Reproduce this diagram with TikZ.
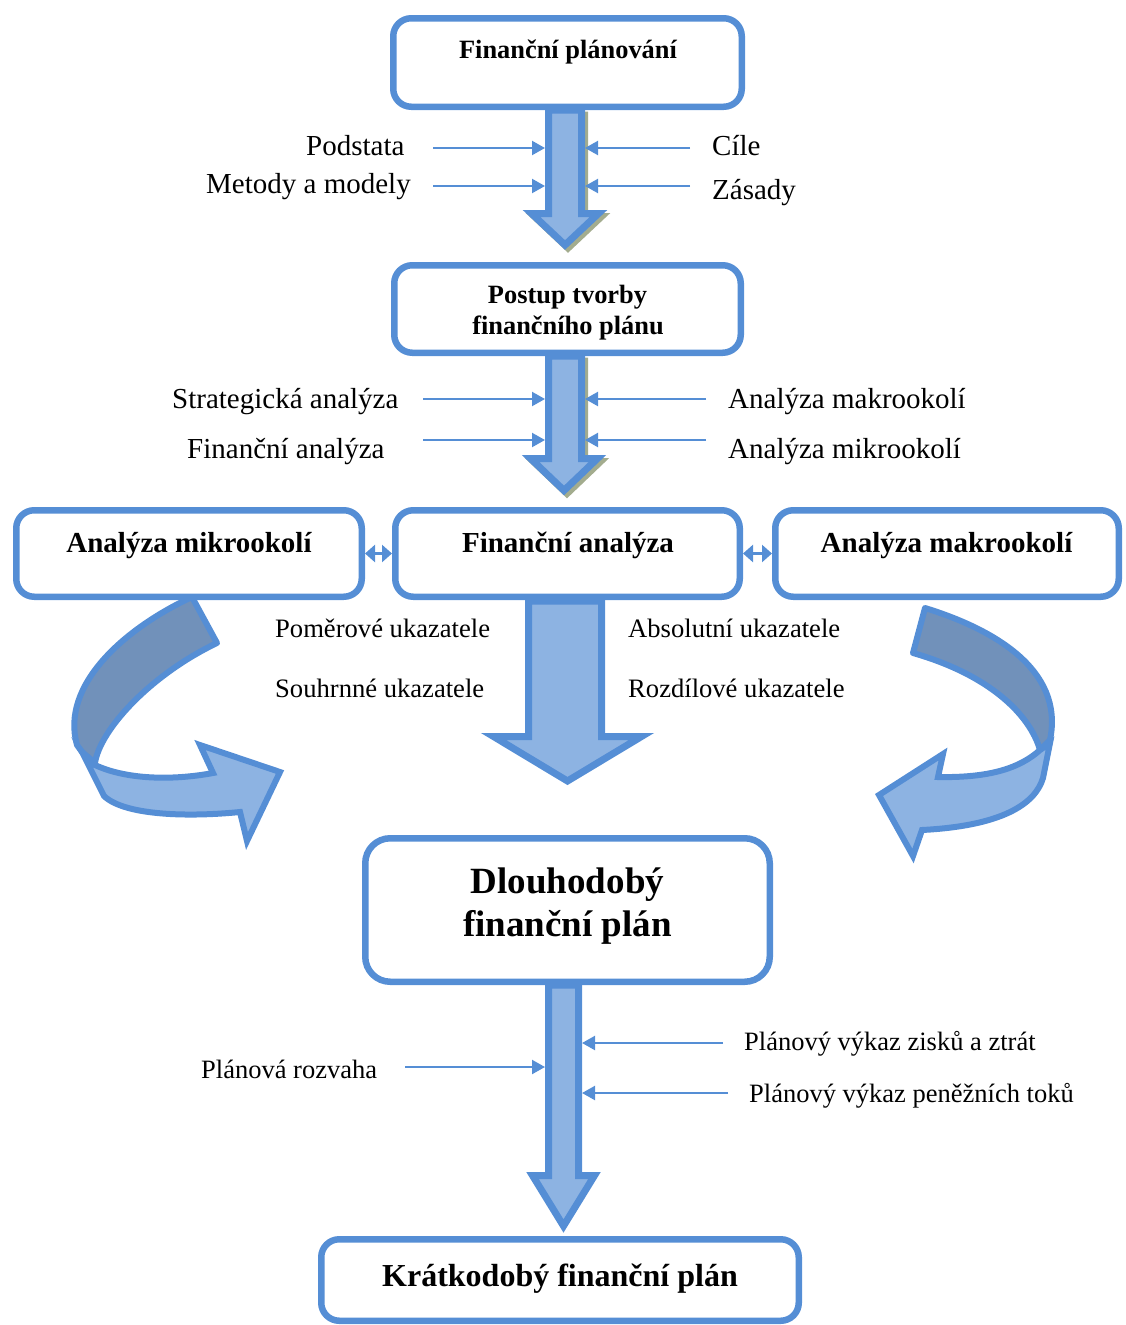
\documentclass[tikz,border=0pt]{standalone}
\usepackage{fontspec}
\setmainfont{Liberation Serif}
\usetikzlibrary{arrows.meta}
\definecolor{edge}{RGB}{85,142,213}
\definecolor{lightfill}{RGB}{141,179,226}
\definecolor{darkfill}{RGB}{113,145,186}
\definecolor{shade}{RGB}{163,172,142}
\tikzset{
  box/.style={draw=edge, line width=6.5pt, rounded corners=18pt, fill=white, inner sep=0pt},
  title/.style={inner sep=0pt, font=\bfseries\fontsize{#1}{#1}\selectfont},
  lab/.style={inner sep=0pt, font=\fontsize{#1}{#1}\selectfont},
  feed/.style={draw=edge, line width=2.2pt, -{Triangle[length=13pt,width=14pt]}},
  twoway/.style={draw=edge, line width=3pt, {Triangle[length=10pt,width=17pt]}-{Triangle[length=10pt,width=17pt]}},
  blockarrow/.style={draw=edge, fill=lightfill, line width=7pt, miter limit=12},
  blockshade/.style={draw=shade, fill=shade, line width=7pt, miter limit=12},
  ribbonback/.style={draw=edge, fill=darkfill, line width=6pt, line join=round},
  ribbonfront/.style={draw=edge, fill=lightfill, line width=6pt, line join=miter},
}
\begin{document}
\begin{tikzpicture}[x=1pt,y=-1pt]
\useasboundingbox (0,0) rectangle (1125,1325);

% ---- block arrows (shadow first) ----
\path[blockshade, shift={(3,3)}] (548.5,112) -- (548.5,213.5) -- (531.5,213.5) -- (565,245) -- (598.5,213.5) -- (581.5,213.5) -- (581.5,112) -- cycle;
\path[blockarrow] (548.5,110) -- (548.5,213.5) -- (531.5,213.5) -- (565,245) -- (598.5,213.5) -- (581.5,213.5) -- (581.5,110) -- cycle;

\path[blockshade, shift={(3,3)}] (548.5,358) -- (548.5,458.5) -- (530.5,458.5) -- (564,490.5) -- (597.5,458.5) -- (581.5,458.5) -- (581.5,358) -- cycle;
\path[blockarrow] (548.5,356) -- (548.5,458.5) -- (530.5,458.5) -- (564,490.5) -- (597.5,458.5) -- (581.5,458.5) -- (581.5,356) -- cycle;

\path[blockarrow] (528.5,601) -- (528.5,736.5) -- (493.5,736.5) -- (567.5,781) -- (641.5,736.5) -- (601.5,736.5) -- (601.5,601) -- cycle;

\path[blockarrow] (548.5,985) -- (548.5,1175.5) -- (532.5,1175.5) -- (563.5,1226) -- (594.5,1175.5) -- (578.5,1175.5) -- (578.5,985) -- cycle;

% ---- curled arrows beside the middle row ----
\path[ribbonback] (192,597) .. controls (125,628) and (60,685) .. (77,745) -- (82,752) -- (95,763)
  .. controls (100,730) and (150,675) .. (217,643) -- cycle;
\path[ribbonfront] (82,752) -- (95,765) .. controls (125,779) and (170,781) .. (213,773)
  -- (200,745) -- (280,772) -- (247,841) -- (240,812)
  .. controls (190,817) and (125,816) .. (104,796) -- cycle;

\path[ribbonback] (925,608) .. controls (990,628) and (1065,668) .. (1050,740) -- (1040,750)
  .. controls (1030,715) and (990,675) .. (913,653) -- cycle;
\path[ribbonfront] (1050,743) -- (1043,778) .. controls (1035,805) and (1000,826) .. (922,830)
  -- (913,856) -- (879,795) -- (943,754) -- (938,777)
  .. controls (990,778) and (1020,768) .. (1040,750) -- cycle;

% ---- boxes ----
\node[box, minimum width=348.5pt, minimum height=88.5pt] (b1) at (567.5,62.5) {};
\node[box, minimum width=346.5pt, minimum height=87.5pt] (b2) at (567.5,309) {};
\node[box, minimum width=345.5pt, minimum height=86.5pt] (mik) at (189,553.5) {};
\node[box, minimum width=344.5pt, minimum height=86.5pt] (fin) at (567.5,553.5) {};
\node[box, minimum width=343.5pt, minimum height=86.5pt] (mak) at (947,553.5) {};
\node[box, rounded corners=25pt, minimum width=404.5pt, minimum height=143.5pt] (b4) at (567.5,910) {};
\node[box, minimum width=477.5pt, minimum height=81.5pt] (b5) at (560,1280) {};

% ---- box titles ----
\node[title=26.4, anchor=base] (t1) at (568,58) {Finanční plánování};
\node[title=26.4, anchor=base] (t2a) at (567.5,303) {Postup tvorby};
\node[title=26.4, anchor=base] (t2b) at (568,334) {finančního plánu};
\node[title=29, anchor=base] (t3a) at (189,552) {Analýza mikrookolí};
\node[title=29, anchor=base] (t3b) at (568,552) {Finanční analýza};
\node[title=29, anchor=base] (t3c) at (946.5,552) {Analýza makrookolí};
\node[title=37, anchor=base] (t4a) at (567.5,893) {Dlouhodobý};
\node[title=37, anchor=base] (t4b) at (567.5,936) {finanční plán};
\node[title=32, anchor=base] (t5) at (560,1286) {Krátkodobý finanční plán};

% ---- links between the middle-row boxes ----
\draw[twoway] (mik.east) -- (fin.west);
\draw[twoway] (fin.east) -- (mak.west);

% ---- side labels ----
\node[lab=29, anchor=base west] (l1) at (306,155) {Podstata};
\node[lab=29, anchor=base west] (l2) at (206,193) {Metody a modely};
\node[lab=29, anchor=base west] (r1) at (712,155) {Cíle};
\node[lab=29, anchor=base west] (r2) at (712,199) {Zásady};

\node[lab=29, anchor=base west] (l3) at (172,408) {Strategická analýza};
\node[lab=29, anchor=base west] (l4) at (187,458) {Finanční analýza};
\node[lab=29, anchor=base west] (r3) at (728,408) {Analýza makrookolí};
\node[lab=29, anchor=base west] (r4) at (728,458) {Analýza mikrookolí};

\node[lab=26.6, anchor=base west] (l5) at (275,637) {Poměrové ukazatele};
\node[lab=26.6, anchor=base west] (l6) at (275,697) {Souhrnné ukazatele};
\node[lab=26.6, anchor=base west] (r5) at (628,637) {Absolutní ukazatele};
\node[lab=26.6, anchor=base west] (r6) at (628,697) {Rozdílové ukazatele};

\node[lab=26.5, anchor=base west] (l7) at (201,1078) {Plánová rozvaha};
\node[lab=26.5, anchor=base west] (r7) at (744,1050) {Plánový výkaz zisků a ztrát};
\node[lab=26.5, anchor=base west] (r8) at (749,1102) {Plánový výkaz peněžních toků};

% ---- feeding arrows into the shafts ----
\coordinate (a1s) at (433,148);  \coordinate (a1e) at (545,148);
\coordinate (a2s) at (433,186);  \coordinate (a2e) at (545,186);
\coordinate (a3s) at (690,148);  \coordinate (a3e) at (585,148);
\coordinate (a4s) at (690,186);  \coordinate (a4e) at (585,186);
\draw[feed] (a1s) -- (a1e);
\draw[feed] (a2s) -- (a2e);
\draw[feed] (a3s) -- (a3e);
\draw[feed] (a4s) -- (a4e);

\coordinate (c1s) at (423,399);  \coordinate (c1e) at (545,399);
\coordinate (c2s) at (423,440);  \coordinate (c2e) at (545,440);
\coordinate (c3s) at (706,399);  \coordinate (c3e) at (585,399);
\coordinate (c4s) at (706,440);  \coordinate (c4e) at (585,440);
\draw[feed] (c1s) -- (c1e);
\draw[feed] (c2s) -- (c2e);
\draw[feed] (c3s) -- (c3e);
\draw[feed] (c4s) -- (c4e);

\coordinate (d1s) at (405,1067); \coordinate (d1e) at (545,1067);
\coordinate (d2s) at (723,1043); \coordinate (d2e) at (582,1043);
\coordinate (d3s) at (728,1093); \coordinate (d3e) at (582,1093);
\draw[feed] (d1s) -- (d1e);
\draw[feed] (d2s) -- (d2e);
\draw[feed] (d3s) -- (d3e);
\end{tikzpicture}
\end{document}
